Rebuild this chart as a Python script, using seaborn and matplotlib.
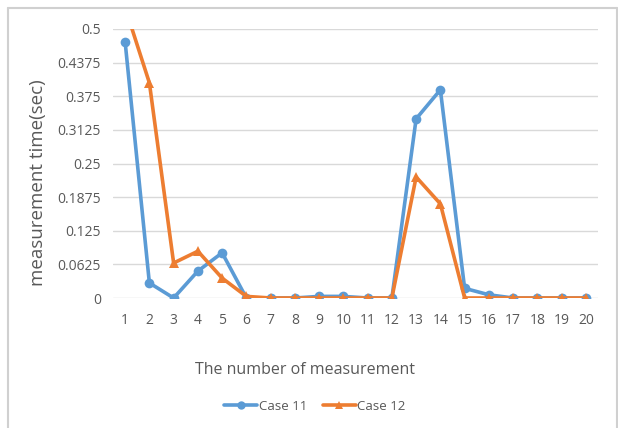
import matplotlib
matplotlib.use("Agg")
import matplotlib.pyplot as plt
import seaborn as sns
import pandas as pd
from matplotlib.lines import Line2D

measurements = list(range(1, 21))
case11 = [0.476, 0.028, 0.0, 0.050, 0.084, 0.0, 0.0, 0.0, 0.003, 0.003,
          0.0, 0.0, 0.333, 0.387, 0.018, 0.006, 0.0, 0.0, 0.0, 0.0]
case12 = [0.54, 0.40, 0.065, 0.087, 0.037, 0.003, 0.0, 0.0, 0.0, 0.0,
          0.0, 0.0, 0.225, 0.175, 0.0, 0.0, 0.0, 0.0, 0.0, 0.0]
yticks = [0, 0.0625, 0.125, 0.1875, 0.25, 0.3125, 0.375, 0.4375, 0.5]
ytick_labels = ["0", "0.0625", "0.125", "0.1875", "0.25", "0.3125", "0.375", "0.4375", "0.5"]

sns.set_theme(style="white")
plt.rcParams['font.family'] = ['Open Sans', 'DejaVu Sans']

df = pd.DataFrame({"x": measurements * 2,
                   "y": case11 + case12,
                   "series": ["Case 11"] * 20 + ["Case 12"] * 20})

blue = "#5B9BD5"
orange = "#ED7D31"
txt = "#595959"

fig = plt.figure(figsize=(6.18, 4.28), dpi=100)
ax = fig.add_axes([113 / 618, 1 - 298 / 428, (598 - 113) / 618, (298 - 29) / 428])

sns.lineplot(data=df, x="x", y="y", hue="series", style="series",
             palette={"Case 11": blue, "Case 12": orange},
             markers={"Case 11": "o", "Case 12": "^"}, dashes=False,
             linewidth=2.6, markersize=7, markeredgewidth=0, ax=ax,
             legend=False, clip_on=True)

ax.set_xlim(0.5, 20.5)
ax.set_ylim(0, 0.5)
ax.set_xticks(measurements)
ax.set_xticklabels([str(m) for m in measurements], color=txt, fontsize=10)
ax.set_yticks(yticks)
ax.set_yticklabels(ytick_labels, color=txt, fontsize=10)
ax.tick_params(axis="y", length=0, pad=8.6)
ax.tick_params(axis="x", length=0, pad=11)
ax.yaxis.grid(True, color="#d9d9d9", linewidth=1)
ax.set_axisbelow(True)
for s in ax.spines.values():
    s.set_visible(False)

ax.set_xlabel("")
ax.set_ylabel("")
fig.text(305 / 618, 1 - 370 / 428, "The number of measurement", ha="center", va="center",
         fontsize=11.5, color=txt)
fig.text(38 / 618, 1 - 183 / 428, "measurement time(sec)", ha="center", va="center",
         rotation=90, fontsize=13.5, color=txt)

handles = [Line2D([], [], color=blue, marker="o", linewidth=2.6, markersize=6, markeredgewidth=0),
           Line2D([], [], color=orange, marker="^", linewidth=2.6, markersize=6, markeredgewidth=0)]
leg = fig.legend(handles, ["Case 11", "Case 12"], loc="center", bbox_to_anchor=(315 / 618, 1 - 406 / 428),
                 ncol=2, frameon=False, fontsize=9.5, handlelength=2.5, handletextpad=0.1,
                 columnspacing=1.2)
for t in leg.get_texts():
    t.set_color(txt)

# outer border (left, top, right)
bc = "#d0d0d0"
fig.add_artist(Line2D([8 / 618, 8 / 618], [0, 1 - 8 / 428], transform=fig.transFigure, color=bc, lw=1.5))
fig.add_artist(Line2D([8 / 618, 617 / 618], [1 - 8 / 428, 1 - 8 / 428], transform=fig.transFigure, color=bc, lw=1.5))
fig.add_artist(Line2D([617 / 618, 617 / 618], [0, 1 - 8 / 428], transform=fig.transFigure, color=bc, lw=1.5))

fig.savefig("out.png", dpi=100, facecolor="white")
